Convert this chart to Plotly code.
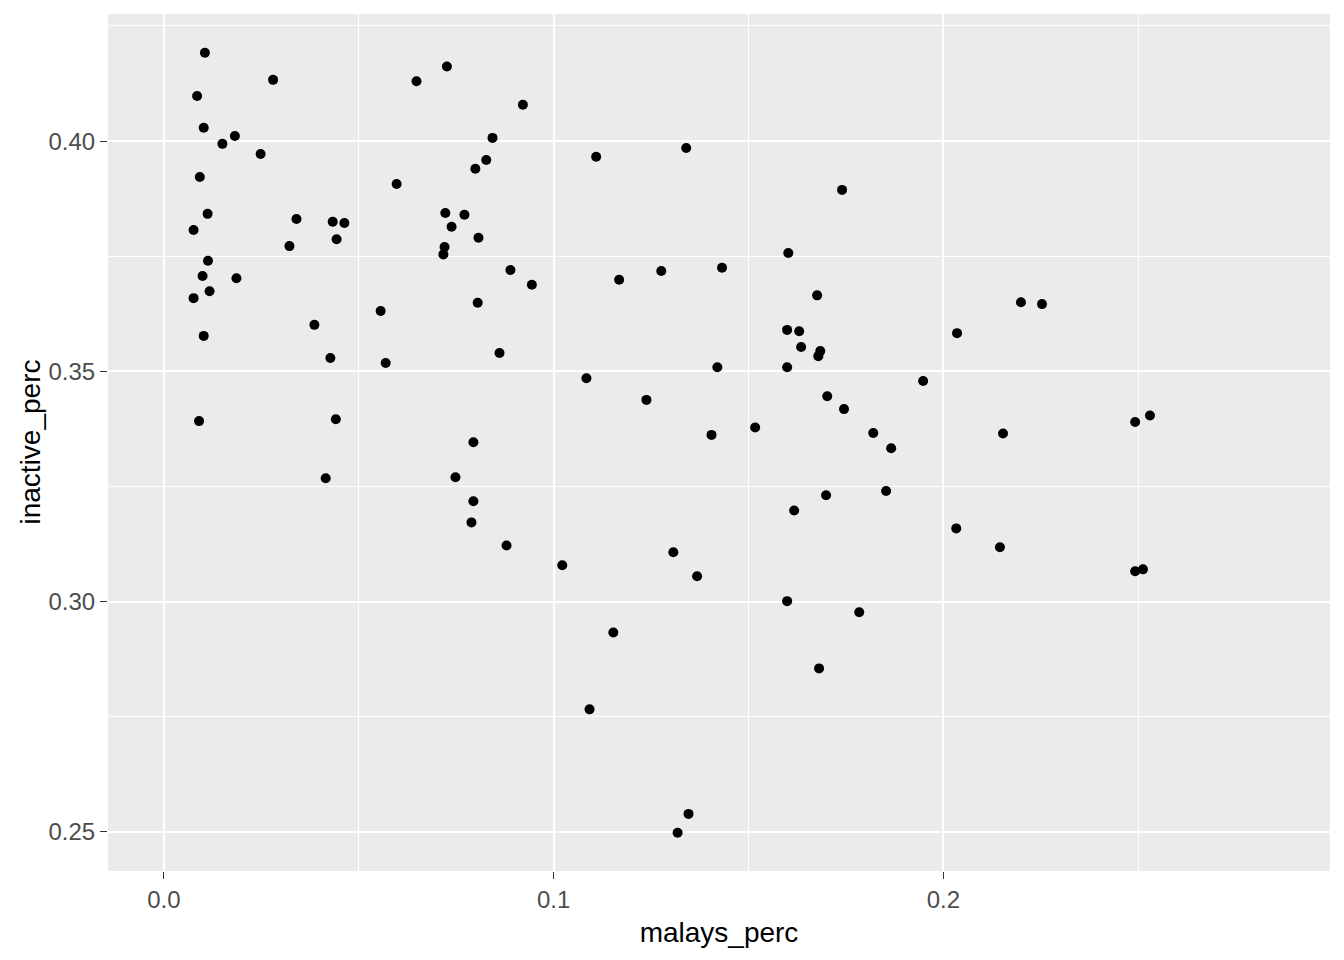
import plotly.graph_objects as go

malays_perc = [
    0.0105, 0.0280, 0.0648, 0.0085, 0.0102, 0.0182, 0.0150, 0.0248, 0.0092, 0.0597,
    0.0112, 0.0340, 0.0433, 0.0463, 0.0076, 0.0443, 0.0322, 0.0113, 0.0099, 0.0186,
    0.0117, 0.0076, 0.0556, 0.0386, 0.0102, 0.0427, 0.0569, 0.0090, 0.0441, 0.0415,
    0.0726, 0.0921, 0.0843, 0.1109, 0.1340, 0.0827, 0.0799, 0.0722, 0.0771, 0.0738,
    0.0807, 0.0720, 0.0717, 0.0889, 0.1168, 0.1276, 0.0944, 0.0805, 0.0861, 0.1084,
    0.1238, 0.0794, 0.0748, 0.0794, 0.0789, 0.0879, 0.1022, 0.1307, 0.1368, 0.1153,
    0.1092, 0.1318, 0.1346, 0.1740, 0.1602, 0.1432, 0.1676, 0.1599, 0.1630, 0.1635,
    0.1684, 0.1679, 0.1420, 0.1599, 0.2035, 0.1948, 0.1702, 0.1745, 0.1517, 0.1820,
    0.1405, 0.1866, 0.1699, 0.1853, 0.1617, 0.2033, 0.1599, 0.1784, 0.1681, 0.2199,
    0.2253, 0.2153, 0.2492, 0.2530, 0.2145, 0.2492, 0.2512,
]
inactive_perc = [
    0.4192, 0.4133, 0.4130, 0.4098, 0.4029, 0.4011, 0.3994, 0.3972, 0.3922, 0.3907,
    0.3842, 0.3831, 0.3825, 0.3822, 0.3807, 0.3787, 0.3772, 0.3740, 0.3707, 0.3702,
    0.3674, 0.3659, 0.3631, 0.3601, 0.3577, 0.3529, 0.3518, 0.3392, 0.3396, 0.3268,
    0.4162, 0.4079, 0.4007, 0.3966, 0.3985, 0.3959, 0.3940, 0.3844, 0.3840, 0.3814,
    0.3790, 0.3770, 0.3754, 0.3720, 0.3699, 0.3718, 0.3688, 0.3649, 0.3540, 0.3485,
    0.3438, 0.3346, 0.3270, 0.3218, 0.3172, 0.3122, 0.3079, 0.3107, 0.3055, 0.2933,
    0.2766, 0.2498, 0.2539, 0.3894, 0.3757, 0.3725, 0.3665, 0.3590, 0.3587, 0.3553,
    0.3544, 0.3533, 0.3509, 0.3509, 0.3583, 0.3479, 0.3446, 0.3418, 0.3378, 0.3366,
    0.3362, 0.3333, 0.3231, 0.3240, 0.3198, 0.3159, 0.3001, 0.2977, 0.2855, 0.3650,
    0.3646, 0.3365, 0.3390, 0.3404, 0.3118, 0.3066, 0.3070,
]

x_ticks = [0.0, 0.1, 0.2]
x_tick_labels = ["0.0", "0.1", "0.2"]
y_ticks = [0.25, 0.30, 0.35, 0.40]
y_tick_labels = ["0.25", "0.30", "0.35", "0.40"]

FONT = "Liberation Sans, Arial, sans-serif"

fig = go.Figure(
    go.Scatter(
        x=malays_perc,
        y=inactive_perc,
        mode="markers",
        marker=dict(color="black", size=10, line=dict(width=0)),
        hoverinfo="x+y",
    )
)

axis_common = dict(
    showgrid=True,
    gridcolor="white",
    gridwidth=1.5,
    zeroline=False,
    showline=False,
    ticks="outside",
    ticklen=7,
    tickwidth=1.2,
    tickcolor="#333333",
    tickfont=dict(family=FONT, size=24, color="#4D4D4D"),
    minor=dict(showgrid=True, gridcolor="white", gridwidth=0.8, ticks=""),
)

fig.update_xaxes(
    **axis_common,
    range=[-0.01436, 0.2992],
    tickvals=x_ticks,
    ticktext=x_tick_labels,
    minor_tickvals=[0.05, 0.15, 0.25],
    title=dict(text="malays_perc", font=dict(family=FONT, size=28, color="black"), standoff=10),
)
fig.update_yaxes(
    **axis_common,
    range=[0.2415, 0.4276],
    tickvals=y_ticks,
    ticktext=y_tick_labels,
    minor_tickvals=[0.275, 0.325, 0.375, 0.425],
)

fig.add_annotation(
    text="inactive_perc",
    xref="paper", yref="paper",
    x=0, y=0.5,
    xshift=-78,
    xanchor="center", yanchor="middle",
    textangle=-90,
    showarrow=False,
    font=dict(family=FONT, size=28, color="black"),
)

# The page body adds an 8px margin, so the figure is sized to fit the window.
fig.update_layout(
    width=1336,
    height=952,
    margin=dict(l=100, r=14, t=6, b=89),
    paper_bgcolor="white",
    plot_bgcolor="#EBEBEB",
    showlegend=False,
)

fig.write_html("out.html")
